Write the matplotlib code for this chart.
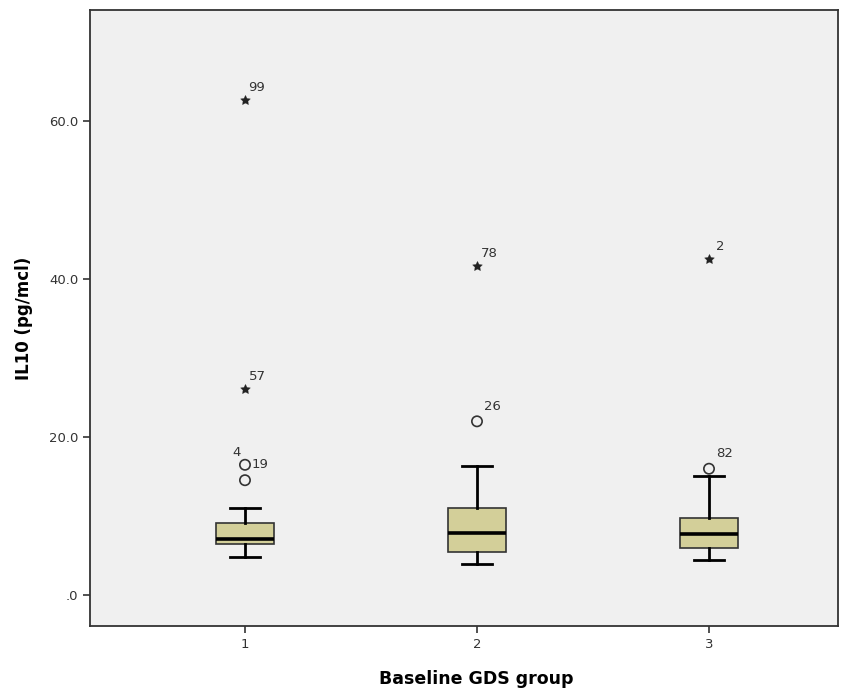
import matplotlib.pyplot as plt

# box summaries (IL10 pg/mcl)
grupos = [1, 2, 3]
whisker_lo = [4.8, 4.0, 4.5]
q1 = [6.5, 5.5, 6.0]
mediana = [7.05, 7.9, 7.7]
q3 = [9.1, 11.05, 9.8]
whisker_hi = [11.05, 16.3, 15.05]

# outliers (circles) and extremes (stars)
circ_x = [1, 1, 2, 3]
circ_y = [16.5, 14.55, 22.0, 16.0]
circ_lab = ['19', '4', '26', '82']

star_x = [1, 1, 2, 3]
star_y = [62.7, 26.1, 41.6, 42.5]
star_lab = ['99', '57', '78', '2']

fig = plt.figure(figsize=(8.53, 6.93), dpi=100)
ax = fig.add_axes([90 / 853, 67 / 693, 748 / 853, 616 / 693])
ax.set_facecolor('#f0f0f0')

stats = []
for i in range(len(grupos)):
    stats.append({'whislo': whisker_lo[i], 'q1': q1[i], 'med': mediana[i],
                  'q3': q3[i], 'whishi': whisker_hi[i], 'fliers': []})

ax.bxp(stats, positions=grupos, widths=0.253, patch_artist=True,
       showfliers=False,
       boxprops=dict(facecolor='#d3cf99', edgecolor='#333333', linewidth=1.2),
       medianprops=dict(color='black', linewidth=2.6),
       whiskerprops=dict(color='black', linewidth=2),
       capprops=dict(color='black', linewidth=2),
       capwidths=0.126)

ax.scatter(circ_x, circ_y, s=55, marker='o', facecolors='none',
           edgecolors='#333333', linewidths=1.2, zorder=3)
ax.scatter(star_x, star_y, s=55, marker=(5, 1, 0), color='#222222',
           linewidths=0.2, zorder=3)

# label offsets in points
circ_off = [(4.5, 0), (-9, 20), (5, 11), (5, 11)]
star_off = [(2.5, 9), (2.5, 9), (3, 9), (5, 9)]
for x, y, t, o in zip(circ_x, circ_y, circ_lab, circ_off):
    ax.annotate(t, (x, y), xytext=o, textcoords='offset points',
                fontsize=9.5, color='#333333', ha='left', va='center')
for x, y, t, o in zip(star_x, star_y, star_lab, star_off):
    ax.annotate(t, (x, y), xytext=o, textcoords='offset points',
                fontsize=9.5, color='#333333', ha='left', va='center')

ax.set_xlim(0.332, 3.556)
ax.set_ylim(-3.9, 74.05)
ax.set_xticks(grupos)
ax.set_xticklabels(['1', '2', '3'])
ax.set_yticks([0, 20, 40, 60])
ax.set_yticklabels(['.0', '20.0', '40.0', '60.0'])
ax.tick_params(axis='both', labelsize=9.5, labelcolor='#333333',
               color='#333333', length=5, width=1.2)

for s in ax.spines.values():
    s.set_color('#333333')
    s.set_linewidth(1.3)

ax.set_ylabel('IL10 (pg/mcl)', fontsize=12, fontweight='bold')
ax.set_xlabel('Baseline GDS group', fontsize=12.5, fontweight='bold')
ax.yaxis.set_label_coords(-0.076, 0.5)
ax.xaxis.set_label_coords(0.517, -0.072)

fig.savefig('out.png', dpi=100)
